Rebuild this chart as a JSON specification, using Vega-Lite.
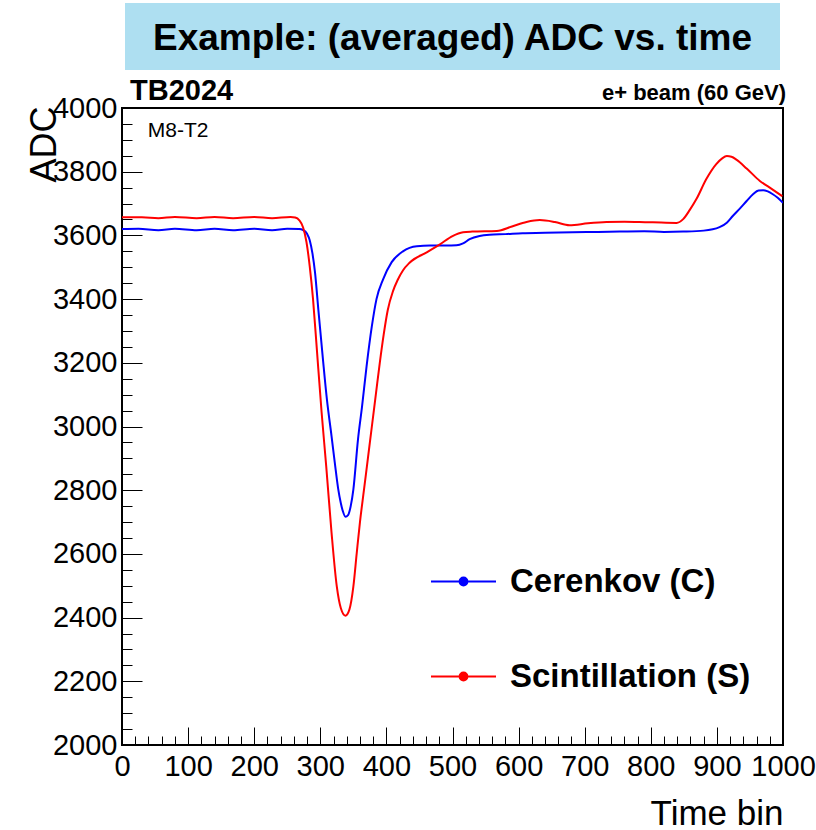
{
  "$schema": "https://vega.github.io/schema/vega-lite/v6.json",
  "background": "white",
  "padding": {"left": 24, "top": 3, "right": 5, "bottom": 2},
  "spacing": 38,
  "bounds": "flush",
  "center": true,
  "config": {
    "font": "Liberation Sans",
    "view": {"stroke": null}
  },
  "datasets": {
    "adc": [
      {"bin": 0, "adc": 3620, "series": "Cerenkov (C)"},
      {"bin": 25, "adc": 3621, "series": "Cerenkov (C)"},
      {"bin": 55, "adc": 3616, "series": "Cerenkov (C)"},
      {"bin": 80, "adc": 3621, "series": "Cerenkov (C)"},
      {"bin": 113, "adc": 3616, "series": "Cerenkov (C)"},
      {"bin": 140, "adc": 3621, "series": "Cerenkov (C)"},
      {"bin": 168, "adc": 3616, "series": "Cerenkov (C)"},
      {"bin": 200, "adc": 3621, "series": "Cerenkov (C)"},
      {"bin": 227, "adc": 3616, "series": "Cerenkov (C)"},
      {"bin": 250, "adc": 3621, "series": "Cerenkov (C)"},
      {"bin": 268, "adc": 3620, "series": "Cerenkov (C)"},
      {"bin": 274, "adc": 3617, "series": "Cerenkov (C)"},
      {"bin": 280, "adc": 3605, "series": "Cerenkov (C)"},
      {"bin": 284, "adc": 3585, "series": "Cerenkov (C)"},
      {"bin": 288, "adc": 3545, "series": "Cerenkov (C)"},
      {"bin": 292, "adc": 3484, "series": "Cerenkov (C)"},
      {"bin": 297, "adc": 3368, "series": "Cerenkov (C)"},
      {"bin": 304, "adc": 3211, "series": "Cerenkov (C)"},
      {"bin": 310, "adc": 3085, "series": "Cerenkov (C)"},
      {"bin": 317, "adc": 2970, "series": "Cerenkov (C)"},
      {"bin": 322, "adc": 2885, "series": "Cerenkov (C)"},
      {"bin": 327, "adc": 2805, "series": "Cerenkov (C)"},
      {"bin": 331, "adc": 2760, "series": "Cerenkov (C)"},
      {"bin": 334, "adc": 2735, "series": "Cerenkov (C)"},
      {"bin": 338, "adc": 2717, "series": "Cerenkov (C)"},
      {"bin": 342, "adc": 2722, "series": "Cerenkov (C)"},
      {"bin": 346, "adc": 2750, "series": "Cerenkov (C)"},
      {"bin": 350, "adc": 2802, "series": "Cerenkov (C)"},
      {"bin": 357, "adc": 2959, "series": "Cerenkov (C)"},
      {"bin": 363, "adc": 3060, "series": "Cerenkov (C)"},
      {"bin": 370, "adc": 3189, "series": "Cerenkov (C)"},
      {"bin": 378, "adc": 3315, "series": "Cerenkov (C)"},
      {"bin": 385, "adc": 3400, "series": "Cerenkov (C)"},
      {"bin": 395, "adc": 3462, "series": "Cerenkov (C)"},
      {"bin": 408, "adc": 3516, "series": "Cerenkov (C)"},
      {"bin": 425, "adc": 3550, "series": "Cerenkov (C)"},
      {"bin": 446, "adc": 3566, "series": "Cerenkov (C)"},
      {"bin": 466, "adc": 3568, "series": "Cerenkov (C)"},
      {"bin": 490, "adc": 3568, "series": "Cerenkov (C)"},
      {"bin": 506, "adc": 3569, "series": "Cerenkov (C)"},
      {"bin": 516, "adc": 3575, "series": "Cerenkov (C)"},
      {"bin": 526, "adc": 3588, "series": "Cerenkov (C)"},
      {"bin": 541, "adc": 3598, "series": "Cerenkov (C)"},
      {"bin": 556, "adc": 3602, "series": "Cerenkov (C)"},
      {"bin": 580, "adc": 3604, "series": "Cerenkov (C)"},
      {"bin": 606, "adc": 3607, "series": "Cerenkov (C)"},
      {"bin": 640, "adc": 3608, "series": "Cerenkov (C)"},
      {"bin": 682, "adc": 3610, "series": "Cerenkov (C)"},
      {"bin": 720, "adc": 3611, "series": "Cerenkov (C)"},
      {"bin": 753, "adc": 3612, "series": "Cerenkov (C)"},
      {"bin": 790, "adc": 3613, "series": "Cerenkov (C)"},
      {"bin": 820, "adc": 3611, "series": "Cerenkov (C)"},
      {"bin": 849, "adc": 3612, "series": "Cerenkov (C)"},
      {"bin": 880, "adc": 3615, "series": "Cerenkov (C)"},
      {"bin": 904, "adc": 3626, "series": "Cerenkov (C)"},
      {"bin": 915, "adc": 3640, "series": "Cerenkov (C)"},
      {"bin": 924, "adc": 3661, "series": "Cerenkov (C)"},
      {"bin": 935, "adc": 3685, "series": "Cerenkov (C)"},
      {"bin": 945, "adc": 3708, "series": "Cerenkov (C)"},
      {"bin": 955, "adc": 3730, "series": "Cerenkov (C)"},
      {"bin": 963, "adc": 3741, "series": "Cerenkov (C)"},
      {"bin": 970, "adc": 3742, "series": "Cerenkov (C)"},
      {"bin": 977, "adc": 3738, "series": "Cerenkov (C)"},
      {"bin": 984, "adc": 3730, "series": "Cerenkov (C)"},
      {"bin": 992, "adc": 3718, "series": "Cerenkov (C)"},
      {"bin": 1000, "adc": 3702, "series": "Cerenkov (C)"},
      {"bin": 0, "adc": 3657, "series": "Scintillation (S)"},
      {"bin": 30, "adc": 3657, "series": "Scintillation (S)"},
      {"bin": 55, "adc": 3654, "series": "Scintillation (S)"},
      {"bin": 80, "adc": 3658, "series": "Scintillation (S)"},
      {"bin": 113, "adc": 3654, "series": "Scintillation (S)"},
      {"bin": 140, "adc": 3658, "series": "Scintillation (S)"},
      {"bin": 168, "adc": 3654, "series": "Scintillation (S)"},
      {"bin": 200, "adc": 3658, "series": "Scintillation (S)"},
      {"bin": 227, "adc": 3654, "series": "Scintillation (S)"},
      {"bin": 255, "adc": 3658, "series": "Scintillation (S)"},
      {"bin": 262, "adc": 3656, "series": "Scintillation (S)"},
      {"bin": 268, "adc": 3648, "series": "Scintillation (S)"},
      {"bin": 274, "adc": 3625, "series": "Scintillation (S)"},
      {"bin": 279, "adc": 3580, "series": "Scintillation (S)"},
      {"bin": 284, "adc": 3503, "series": "Scintillation (S)"},
      {"bin": 289, "adc": 3400, "series": "Scintillation (S)"},
      {"bin": 294, "adc": 3264, "series": "Scintillation (S)"},
      {"bin": 302, "adc": 3044, "series": "Scintillation (S)"},
      {"bin": 309, "adc": 2874, "series": "Scintillation (S)"},
      {"bin": 317, "adc": 2667, "series": "Scintillation (S)"},
      {"bin": 325, "adc": 2497, "series": "Scintillation (S)"},
      {"bin": 331, "adc": 2430, "series": "Scintillation (S)"},
      {"bin": 338, "adc": 2406, "series": "Scintillation (S)"},
      {"bin": 344, "adc": 2425, "series": "Scintillation (S)"},
      {"bin": 350, "adc": 2497, "series": "Scintillation (S)"},
      {"bin": 355, "adc": 2600, "series": "Scintillation (S)"},
      {"bin": 360, "adc": 2700, "series": "Scintillation (S)"},
      {"bin": 366, "adc": 2800, "series": "Scintillation (S)"},
      {"bin": 372, "adc": 2900, "series": "Scintillation (S)"},
      {"bin": 378, "adc": 3000, "series": "Scintillation (S)"},
      {"bin": 384, "adc": 3100, "series": "Scintillation (S)"},
      {"bin": 390, "adc": 3200, "series": "Scintillation (S)"},
      {"bin": 396, "adc": 3290, "series": "Scintillation (S)"},
      {"bin": 402, "adc": 3365, "series": "Scintillation (S)"},
      {"bin": 410, "adc": 3425, "series": "Scintillation (S)"},
      {"bin": 417, "adc": 3460, "series": "Scintillation (S)"},
      {"bin": 425, "adc": 3490, "series": "Scintillation (S)"},
      {"bin": 435, "adc": 3514, "series": "Scintillation (S)"},
      {"bin": 461, "adc": 3547, "series": "Scintillation (S)"},
      {"bin": 481, "adc": 3572, "series": "Scintillation (S)"},
      {"bin": 500, "adc": 3598, "series": "Scintillation (S)"},
      {"bin": 516, "adc": 3610, "series": "Scintillation (S)"},
      {"bin": 530, "adc": 3612, "series": "Scintillation (S)"},
      {"bin": 567, "adc": 3614, "series": "Scintillation (S)"},
      {"bin": 590, "adc": 3628, "series": "Scintillation (S)"},
      {"bin": 612, "adc": 3642, "series": "Scintillation (S)"},
      {"bin": 632, "adc": 3648, "series": "Scintillation (S)"},
      {"bin": 655, "adc": 3642, "series": "Scintillation (S)"},
      {"bin": 677, "adc": 3632, "series": "Scintillation (S)"},
      {"bin": 705, "adc": 3638, "series": "Scintillation (S)"},
      {"bin": 733, "adc": 3642, "series": "Scintillation (S)"},
      {"bin": 760, "adc": 3643, "series": "Scintillation (S)"},
      {"bin": 783, "adc": 3642, "series": "Scintillation (S)"},
      {"bin": 803, "adc": 3641, "series": "Scintillation (S)"},
      {"bin": 839, "adc": 3639, "series": "Scintillation (S)"},
      {"bin": 849, "adc": 3651, "series": "Scintillation (S)"},
      {"bin": 859, "adc": 3680, "series": "Scintillation (S)"},
      {"bin": 869, "adc": 3714, "series": "Scintillation (S)"},
      {"bin": 884, "adc": 3777, "series": "Scintillation (S)"},
      {"bin": 899, "adc": 3824, "series": "Scintillation (S)"},
      {"bin": 908, "adc": 3842, "series": "Scintillation (S)"},
      {"bin": 915, "adc": 3849, "series": "Scintillation (S)"},
      {"bin": 922, "adc": 3847, "series": "Scintillation (S)"},
      {"bin": 930, "adc": 3837, "series": "Scintillation (S)"},
      {"bin": 945, "adc": 3810, "series": "Scintillation (S)"},
      {"bin": 965, "adc": 3771, "series": "Scintillation (S)"},
      {"bin": 980, "adc": 3750, "series": "Scintillation (S)"},
      {"bin": 999, "adc": 3723, "series": "Scintillation (S)"}
    ]
  },
  "vconcat": [
    {
      "width": 655,
      "height": 67,
      "view": {"fill": "#AEDFF1", "stroke": null},
      "data": {"values": [{"label": "Example: (averaged) ADC vs. time"}]},
      "mark": {"type": "text", "font": "Liberation Sans", "fontWeight": "bold", "fontSize": 37, "color": "black", "dy": 2},
      "encoding": {"text": {"field": "label"}}
    },
    {
      "width": 661,
      "height": 637,
      "view": {"stroke": "black", "strokeWidth": 2, "fill": null},
      "layer": [
        {
          "data": {"name": "adc"},
          "mark": {"type": "line", "strokeWidth": 2, "clip": true, "interpolate": "monotone"},
          "encoding": {
            "x": {
              "field": "bin", "type": "quantitative",
              "scale": {"domain": [0, 1000], "nice": false, "zero": false},
              "axis": {
                "title": "Time bin",
                "titleFont": "Liberation Sans", "titleFontSize": 35, "titleFontWeight": "normal", "titleColor": "black",
                "titleX": 661, "titleY": 79, "titleAlign": "right", "titleBaseline": "alphabetic", "titleAnchor": null,
                "tickCount": 200,
                "format": "d",
                "values": [0,20,40,60,80,100,120,140,160,180,200,220,240,260,280,300,320,340,360,380,400,420,440,460,480,500,520,540,560,580,600,620,640,660,680,700,720,740,760,780,800,820,840,860,880,900,920,940,960,980,1000],
                "labelExpr": "datum.value % 100 === 0 ? datum.label : ''",
                "labelFont": "Liberation Sans", "labelFontSize": 29, "labelColor": "black",
                "labelOverlap": false, "labelFlush": false, "labelBound": false,
                "labelPadding": 25,
                "domain": false, "grid": false,
                "tickColor": "black", "tickWidth": 1,
                "tickSize": {"condition": {"test": "datum.value % 100 === 0", "value": -18}, "value": -9}
              }
            },
            "y": {
              "field": "adc", "type": "quantitative",
              "scale": {"domain": [2000, 4000], "nice": false, "zero": false},
              "axis": {
                "title": "ADC",
                "titleFont": "Liberation Sans", "titleFontSize": 36, "titleFontWeight": "normal", "titleColor": "black",
                "titleX": -78, "titleY": -2, "titleAngle": -90, "titleAlign": "right", "titleBaseline": "middle", "titleAnchor": null,
                "tickCount": 200,
                "values": [2000,2050,2100,2150,2200,2250,2300,2350,2400,2450,2500,2550,2600,2650,2700,2750,2800,2850,2900,2950,3000,3050,3100,3150,3200,3250,3300,3350,3400,3450,3500,3550,3600,3650,3700,3750,3800,3850,3900,3950,4000],
                "labelExpr": "datum.value % 200 === 0 ? datum.label : ''",
                "format": "d",
                "labelFont": "Liberation Sans", "labelFontSize": 29, "labelColor": "black",
                "labelOverlap": false, "labelFlush": false, "labelBound": false,
                "labelPadding": 25, "labelBaseline": "middle",
                "domain": false, "grid": false,
                "tickColor": "black", "tickWidth": 1,
                "tickSize": {"condition": {"test": "datum.value % 200 === 0", "value": -20}, "value": -10}
              }
            },
            "color": {
              "field": "series", "type": "nominal",
              "scale": {"domain": ["Cerenkov (C)", "Scintillation (S)"], "range": ["#0000FF", "#FF0000"]},
              "legend": {
                "title": null,
                "orient": "none",
                "legendX": 308,
                "legendY": 545,
                "symbolType": "M-1,0L1,0M-0.12,0A0.12,0.12,0,1,0,0.12,0A0.12,0.12,0,1,0,-0.12,0",
                "symbolSize": 4225,
                "symbolStrokeWidth": 2,
                "labelFont": "Liberation Sans", "labelFontSize": 33, "labelFontWeight": "bold", "labelColor": "black",
                "labelOffset": 13,
                "labelLimit": 500,
                "rowPadding": 44,
                "encode": {"symbols": {"update": {"fill": {"scale": "color", "field": "value"}}}}
              }
            }
          }
        },
        {
          "data": {"values": [{"label": "TB2024"}]},
          "mark": {"type": "text", "font": "Liberation Sans", "fontWeight": "bold", "fontSize": 29, "align": "left", "baseline": "alphabetic", "dy": -8, "dx": 8, "color": "black"},
          "encoding": {"text": {"field": "label"}, "x": {"datum": 0}, "y": {"datum": 4000}}
        },
        {
          "data": {"values": [{"label": "e+ beam (60 GeV)"}]},
          "mark": {"type": "text", "font": "Liberation Sans", "fontWeight": "bold", "fontSize": 22, "align": "right", "baseline": "alphabetic", "dy": -8, "dx": 3, "color": "black"},
          "encoding": {"text": {"field": "label"}, "x": {"datum": 1000}, "y": {"datum": 4000}}
        },
        {
          "data": {"values": [{"label": "M8-T2"}]},
          "mark": {"type": "text", "font": "Liberation Sans", "fontSize": 21, "align": "left", "baseline": "middle", "color": "black"},
          "encoding": {"text": {"field": "label"}, "x": {"datum": 39}, "y": {"datum": 3928}}
        }
      ]
    }
  ]
}
